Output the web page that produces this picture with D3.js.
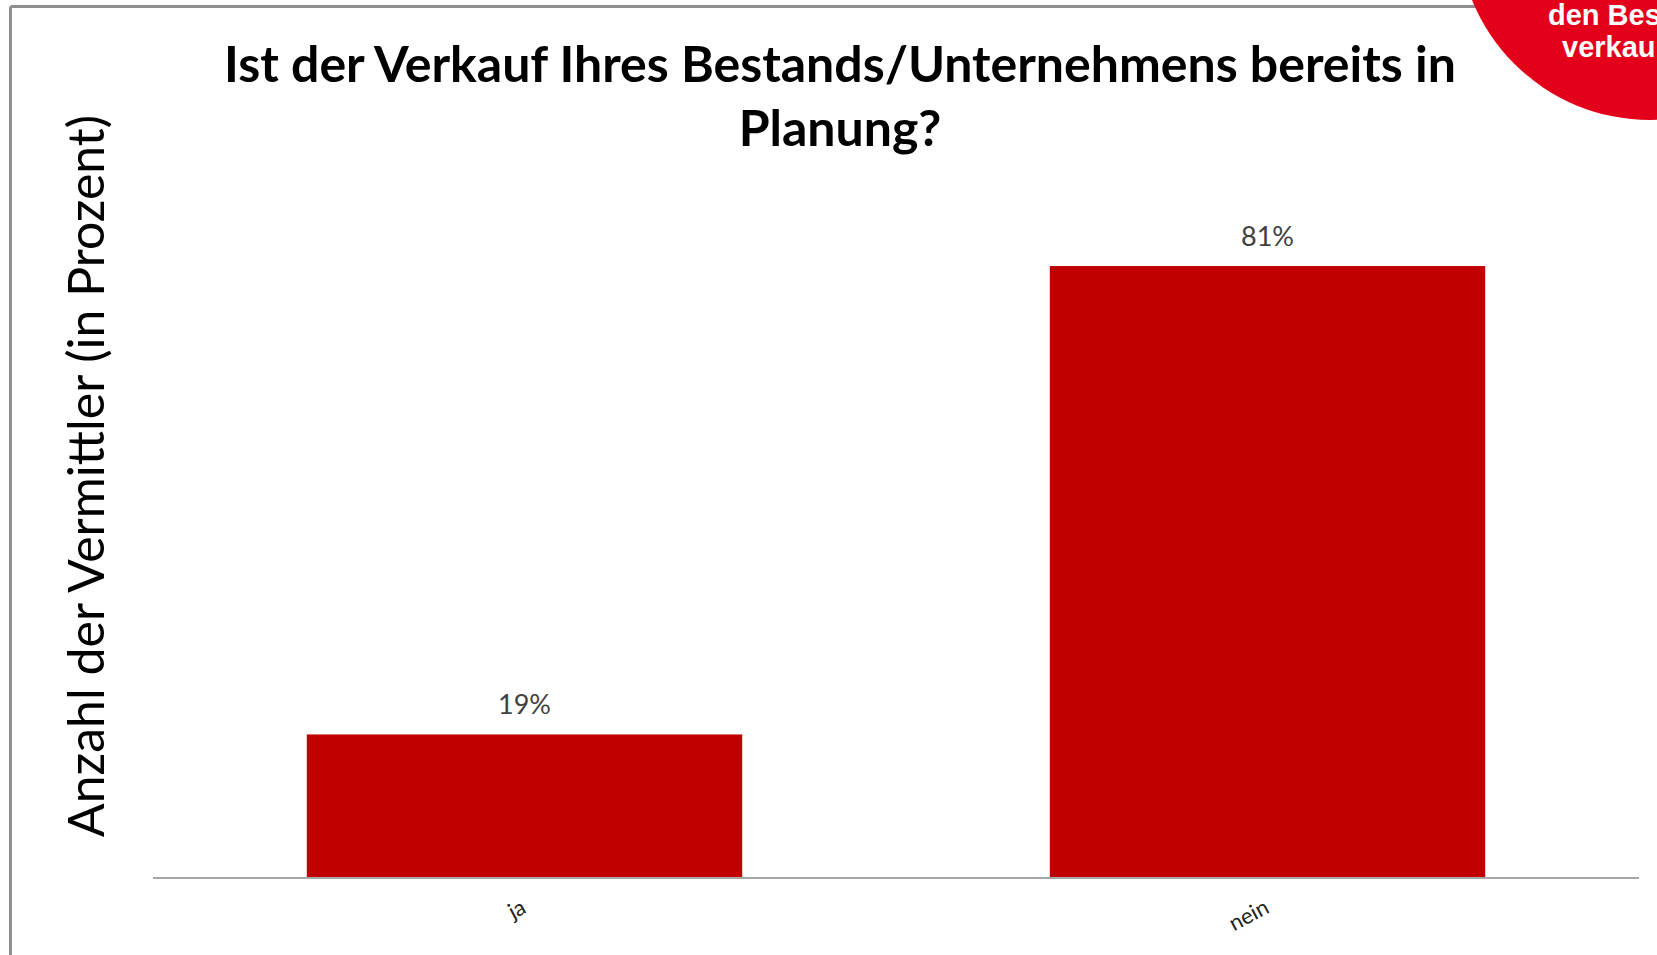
<!DOCTYPE html>
<html>
<head>
<meta charset="utf-8">
<script src="https://cdn.jsdelivr.net/npm/d3@7"></script>
<style>
  html, body { margin: 0; padding: 0; background: #fff; overflow: hidden; }
  svg { display: block; }
</style>
</head>
<body>
<svg id="chart" width="1657" height="955"></svg>
<script>
const categories = ["ja", "nein"];
const values = [19, 81];
const valueLabels = ["19%", "81%"];
const titleLines = ["Ist der Verkauf Ihres Bestands/Unternehmens bereits in", "Planung?"];
const yAxisTitle = "Anzahl der Vermittler (in Prozent)";
const badgeLines = ["den Bes", "verkau"];

const W = 1657, H = 955;
const svg = d3.select("#chart");
const font = "Lato, 'Open Sans', sans-serif";

// Frame (left and top edges visible)
svg.append("line").attr("x1", 10.5).attr("y1", 6.5).attr("x2", 1657).attr("y2", 6.5)
  .attr("stroke", "#8f8f8f").attr("stroke-width", 3);
svg.append("line").attr("x1", 10.5).attr("y1", 6.5).attr("x2", 10.5).attr("y2", 955)
  .attr("stroke", "#8f8f8f").attr("stroke-width", 3);

const plot = { left: 153, right: 1639, bottom: 878 };
const x = d3.scaleBand().domain(categories).range([plot.left, plot.right])
  .paddingInner(0.414).paddingOuter(0.207);
const y = d3.scaleLinear().domain([0, 100]).range([plot.bottom, 122.5]);

// Bars
svg.append("g").selectAll("rect").data(categories).join("rect")
  .attr("x", d => x(d))
  .attr("y", (d, i) => y(values[i]))
  .attr("width", x.bandwidth())
  .attr("height", (d, i) => y(0) - y(values[i]))
  .attr("fill", "#c00000");

// Value labels
svg.append("g").selectAll("text").data(categories).join("text")
  .attr("x", d => x(d) + x.bandwidth() / 2)
  .attr("y", (d, i) => y(values[i]) - 20)
  .attr("text-anchor", "middle")
  .attr("font-family", font)
  .attr("font-size", 27)
  .attr("fill", "#404040")
  .text((d, i) => valueLabels[i]);

// X axis
const xAxis = d3.axisBottom(x).tickSize(0).tickPadding(0);
const gx = svg.append("g").attr("transform", `translate(0,${plot.bottom})`).call(xAxis);
gx.select(".domain").attr("stroke", "#a6a6a6").attr("stroke-width", 2)
  .attr("d", `M${plot.left},0H${plot.right}`);
gx.selectAll(".tick text")
  .attr("font-family", font)
  .attr("font-size", 22)
  .attr("fill", "#222")
  .attr("text-anchor", "end")
  .attr("dy", null)
  .attr("y", 0)
  .attr("transform", "translate(3,34) rotate(-28)");

// Y axis title
svg.append("text")
  .attr("transform", "translate(104,476) rotate(-90)")
  .attr("text-anchor", "middle")
  .attr("font-family", font)
  .attr("font-size", 50)
  .attr("fill", "#000")
  .text(yAxisTitle);

// Chart title
svg.append("g").selectAll("text").data(titleLines).join("text")
  .attr("x", 840)
  .attr("y", (d, i) => 82 + i * 64)
  .attr("text-anchor", "middle")
  .attr("font-family", font)
  .attr("font-weight", "bold")
  .attr("font-size", 50)
  .attr("fill", "#000")
  .text(d => d);

// Red badge in the top-right corner
svg.append("circle").attr("cx", 1650).attr("cy", -72).attr("r", 192).attr("fill", "#e2001a");
svg.append("g").selectAll("text").data(badgeLines).join("text")
  .attr("x", (d, i) => [1548, 1562][i])
  .attr("y", (d, i) => 25 + i * 32)
  .attr("font-family", "'Liberation Sans', Arial, sans-serif")
  .attr("font-weight", "bold")
  .attr("font-size", 29)
  .attr("fill", "#fff")
  .text(d => d);
</script>
</body>
</html>
